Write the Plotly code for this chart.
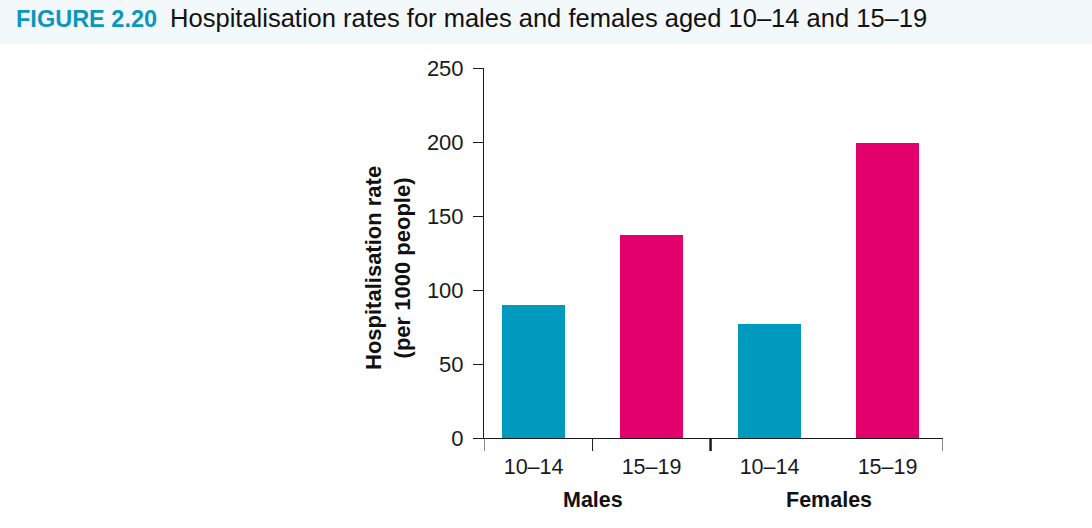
import plotly.graph_objects as go

# ---- data ----
groups = ["Males", "Females"]
age_bands = ["10–14", "15–19"]
rates_10_14 = [90, 77]     # Males, Females
rates_15_19 = [137, 199]   # Males, Females
y_ticks = [0, 50, 100, 150, 200, 250]

TEAL = "#009ABF"
MAGENTA = "#E4006C"
FONT = "Liberation Sans, Arial, Helvetica, sans-serif"
W, H = 1092, 528
L, R, T, B = 484, 149, 68, 90

# x positions: each group has two bars
x_pos = []
labels = []
values = []
colors = []
for gi, g in enumerate(groups):
    for ai, a in enumerate(age_bands):
        x_pos.append(gi * 2 + ai)
        labels.append(a)
        values.append(rates_10_14[gi] if ai == 0 else rates_15_19[gi])
        colors.append(TEAL if ai == 0 else MAGENTA)

fig = go.Figure()
fig.add_trace(go.Bar(
    x=x_pos, y=values, marker=dict(color=colors, line=dict(width=0)),
    width=0.54, showlegend=False, hoverinfo="x+y",
))

x_lo, x_hi = -0.42, 3.47
fig.update_layout(
    width=W, height=H,
    margin=dict(l=L, r=R, t=T, b=B, pad=0),
    paper_bgcolor="white", plot_bgcolor="white",
    font=dict(family=FONT, color="#1a1a1a", size=21),
    bargap=0,
    xaxis=dict(
        range=[x_lo, x_hi], tickvals=x_pos, ticktext=labels,
        ticks="", showgrid=False, zeroline=False,
        showline=True, linecolor="#1a1a1a", linewidth=1,
        tickfont=dict(size=21.5, family=FONT, color="#1a1a1a"),
        ticklabelstandoff=9,
    ),
    yaxis=dict(
        range=[0, 250], tickvals=y_ticks, ticks="outside", ticklen=10,
        tickwidth=1, tickcolor="#1a1a1a", showgrid=False, zeroline=False,
        showline=True, linecolor="#1a1a1a", linewidth=1,
        tickfont=dict(size=22, family=FONT, color="#1a1a1a"),
        ticklabelstandoff=5,
    ),
)

pw = W - L - R
ph = H - T - B
def px_to_paper_x(px):
    return (px - L) / pw
def px_to_paper_y(py):
    return (H - B - py) / ph

# header band
fig.add_shape(type="rect", xref="paper", yref="paper",
              x0=px_to_paper_x(0), x1=px_to_paper_x(W),
              y0=px_to_paper_y(44), y1=px_to_paper_y(0),
              fillcolor="#F3F8FB", line=dict(width=0), layer="below")

# title
fig.add_annotation(
    xref="paper", yref="paper", x=px_to_paper_x(14), y=px_to_paper_y(18),
    xanchor="left", yanchor="middle", showarrow=False,
    text="<b><span style='color:#0A97BF'>FIGURE 2.20</span></b>  "
         "<span style='font-size:25.5px'>Hospitalisation rates for males and females aged 10–14 and 15–19</span>",
    font=dict(family=FONT, size=23.5, color="#111111"),
)

# y-axis title
fig.add_annotation(
    xref="paper", yref="paper", x=px_to_paper_x(388), y=px_to_paper_y(268),
    xanchor="center", yanchor="middle", showarrow=False, textangle=-90,
    text="<b>Hospitalisation rate<br>(per 1000 people)</b>",
    font=dict(family=FONT, size=22, color="#111111"),
)

# group labels
for gi, g in enumerate(groups):
    fig.add_annotation(
        xref="x", yref="paper", x=gi * 2 + 0.5, y=px_to_paper_y(500),
        xanchor="center", yanchor="middle", showarrow=False,
        text=f"<b>{g}</b>", font=dict(family=FONT, size=21.5, color="#111111"),
    )

# x tick marks (category dividers)
y0t = px_to_paper_y(451)
for xv, wdt in [(x_lo, 1), (0.5, 1), (1.5, 2.5), (x_hi, 1)]:
    fig.add_shape(type="line", xref="x", yref="paper", x0=xv, x1=xv,
                  y0=0, y1=y0t, line=dict(color="#1a1a1a", width=wdt))

fig.write_html("out.html")
